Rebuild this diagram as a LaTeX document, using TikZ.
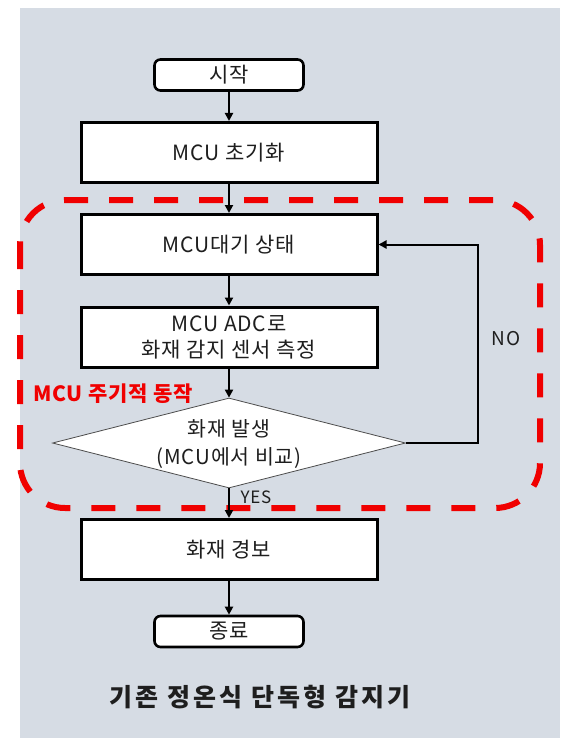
\documentclass[tikz,border=0pt]{standalone}
\usepackage{fontspec}
\setmainfont{Noto Sans CJK KR}
\newfontfamily\krsp[LetterSpace=4]{Noto Sans CJK KR}
\newfontfamily\krti[LetterSpace=12]{Noto Sans CJK KR}
\usetikzlibrary{shapes.geometric,arrows.meta}
\definecolor{bgc}{RGB}{214,220,228}
\definecolor{txt}{RGB}{30,30,30}
\definecolor{redd}{RGB}{240,0,0}
\begin{document}
\begin{tikzpicture}[x=1pt,y=-1pt,
  box/.style={draw=black,line width=3pt,fill=white,minimum width=296pt,minimum height=60pt,inner sep=0pt,text=txt,font=\krsp\fontsize{21}{26}\selectfont,align=center},
  term/.style={draw=black,line width=2.6pt,fill=white,rounded corners=6pt,minimum width=149pt,minimum height=31pt,inner sep=0pt,text=txt,font=\krsp\fontsize{21}{22}\selectfont},
  dia/.style={draw=black!70,line width=0.8pt,fill=white,diamond,minimum width=353pt,minimum height=90pt,inner sep=0pt},
  arr/.style={line width=2.4pt,-{Triangle[length=8pt,width=8pt]}},
  zone/.style={draw=redd,line width=6pt,dash pattern=on 24pt off 21pt,rounded corners=45pt}
]
\useasboundingbox (0,0) rectangle (560,738);
\fill[bgc] (20,8) rectangle (560,738);
\draw[zone] (20,200) rectangle (540,508);

\node[term] (start) at (229,75) {시작};
\node[box] (init) at (229,152.5) {MCU 초기화};
\node[box] (wait) at (229,244.5) {MCU대기 상태};
\node[box] (adc) at (229,337) {MCU ADC로\\화재 감지 센서 측정};
\node[dia] (dec) at (229,443) {};
\node[text=txt,font=\krsp\fontsize{20.5}{28}\selectfont,align=center] (dect) at (229,444) {화재 발생\\(MCU에서 비교)};
\node[box] (alarm) at (229,549.5) {화재 경보};
\node[term] (stop) at (229,631.5) {종료};

\node[anchor=west,text=redd,font=\krsp\fontsize{21}{22}\bfseries\selectfont,inner sep=0pt] (zlabel) at (33,394) {MCU 주기적 동작};
\node[text=txt,font=\krsp\fontsize{19}{20}\selectfont] (nolab) at (506,339) {NO};
\node[text=txt,font=\krsp\fontsize{17}{18}\selectfont] (yeslab) at (256,497) {YES};
\node[text=txt,font=\krti\fontsize{25}{28}\bfseries\selectfont] (title) at (260,697) {기존 정온식 단독형 감지기};

\draw[arr] (start) -- (init);
\draw[arr] (init) -- (wait);
\draw[arr] (wait) -- (adc);
\draw[arr] (adc) -- (dec);
\draw[arr] (dec) -- (alarm);
\draw[arr] (alarm) -- (stop);
\draw[line width=2pt,-{Triangle[length=8pt,width=8pt]}] (dec.east) -- ++(72,0) |- (wait.east);
\end{tikzpicture}
\end{document}
